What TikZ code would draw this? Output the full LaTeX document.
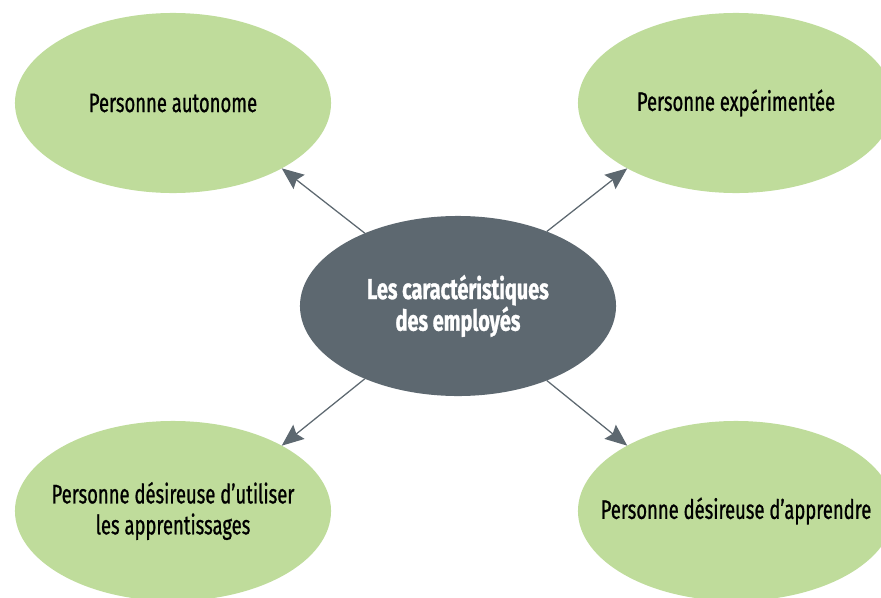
\documentclass[tikz,border=0pt]{standalone}
\usepackage{fontspec}
\setmainfont{Fira Sans}[FakeStretch=0.69,UprightFeatures={FakeBold=0.8},BoldFeatures={FakeBold=1}]
\usetikzlibrary{shapes.geometric,arrows.meta}
\definecolor{leafgreen}{HTML}{BFDC9B}
\definecolor{slate}{HTML}{5D6870}

\begin{document}
\begin{tikzpicture}[x=0.025cm,y=-0.025cm,
  every node/.style={font=\fontsize{19}{22}\selectfont},
  leaf/.style={ellipse,fill=leafgreen,minimum width=7.9cm,minimum height=4.5cm,
    inner xsep=-3cm,inner ysep=-1cm,outer sep=0pt,align=center},
  core/.style={leaf,fill=slate,text=white,font=\fontsize{20.5}{22.5}\selectfont\bfseries},
  link/.style={slate,line width=0.9pt,-{Stealth[length=0.55cm,width=0.45cm,inset=0.08cm]}}]
  \clip (0,0) rectangle (881,598);
  % centre
  \node[core] (c) at (458,306) {Les caractéristiques\\des employés};
  % the four traits
  \node[leaf] (tl) at (173,103) {Personne autonome};
  \node[leaf] (tr) at (736,103) {Personne expérimentée};
  \node[leaf] (bl) at (173,511) {Personne désireuse d’utiliser\\les apprentissages};
  \node[leaf] (br) at (736,511) {Personne désireuse d’apprendre};
  \draw[link] (c.142) -- (tl.-31);
  \draw[link] (c.40) -- (tr.211);
  \draw[link] (c.218) -- (bl.31);
  \draw[link] (c.-40) -- (br.149);
\end{tikzpicture}
\end{document}
